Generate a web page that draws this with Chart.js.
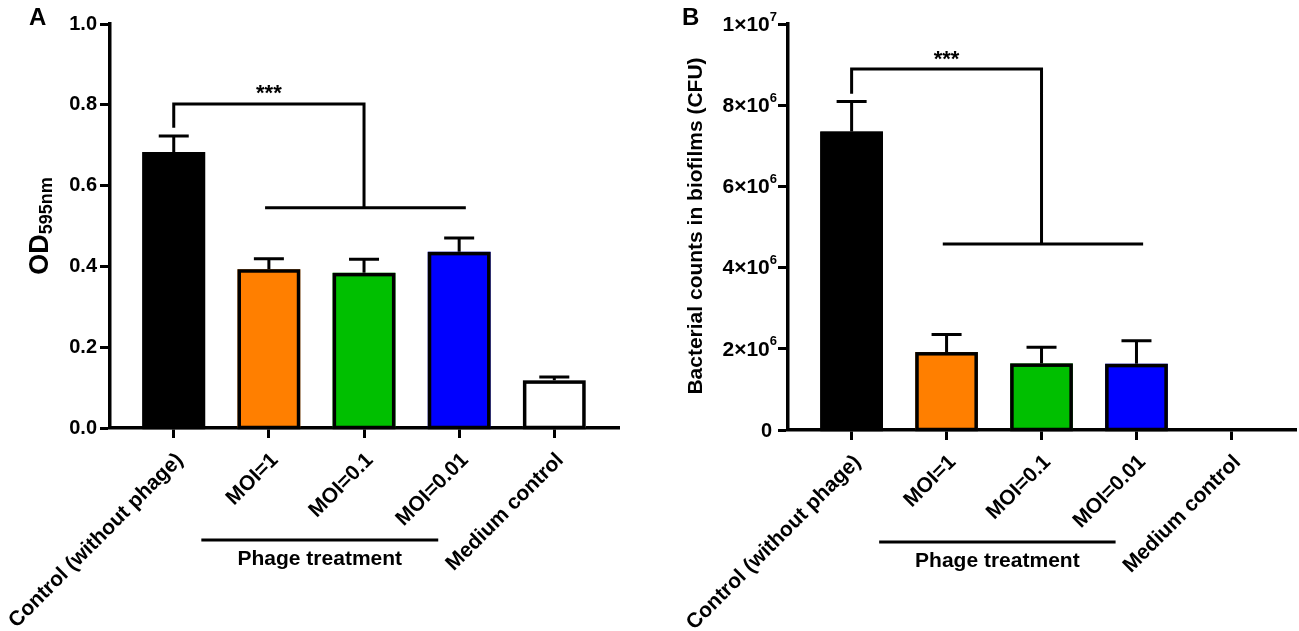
<!DOCTYPE html>
<html>
<head>
<meta charset="utf-8">
<script src="https://cdn.jsdelivr.net/npm/chart.js@4.4.1/dist/chart.umd.min.js"></script>
<style>
  body { margin: 0; background: #fff; }
  #wrap { position: relative; width: 1299px; height: 631px; }
  canvas { position: absolute; top: 0; }
</style>
</head>
<body>
<div id="wrap">
  <canvas id="chartA" width="650" height="631" style="left:0"></canvas>
  <canvas id="chartB" width="649" height="631" style="left:650px"></canvas>
</div>
<script>
// data
const categories = ['Control (without phage)', 'MOI=1', 'MOI=0.1', 'MOI=0.01', 'Medium control'];
const barColors = ['#000000', '#ff7f00', '#00bf00', '#0000ff', '#ffffff'];

const odMeans = [0.683, 0.393, 0.384, 0.436, 0.118];
const odErrors = [0.040, 0.026, 0.034, 0.034, 0.008];
const odTicks = [0, 0.2, 0.4, 0.6, 0.8, 1.0];

const cfuMeans = [7.35e6, 1.92e6, 1.64e6, 1.63e6, 0];
const cfuErrors = [0.74e6, 0.43e6, 0.40e6, 0.57e6, 0];
const cfuTicks = [0, 2e6, 4e6, 6e6, 8e6, 1e7];

// significance brackets, in data units (x = category index)
const bracketA = { x1: 0, x2: 2, top: 0.802, leftEnd: 0.743, lowX1: 0.96, lowX2: 3.07, low: 0.545, starX: 1, starY: 0.845 };
const bracketB = { x1: 0, x2: 2, top: 8.89e6, leftEnd: 8.28e6, lowX1: 0.96, lowX2: 3.07, low: 4.58e6, starX: 1, starY: 9.28e6 };
const groupLabel = 'Phage treatment';
const groupSpan = [0.29, 2.78];

const FONT = '"Liberation Sans", Arial, sans-serif';

function sciParts(v) {
  if (v === 0) return null;
  const exp = Math.floor(Math.log10(v) + 1e-9);
  const m = Math.round(v / Math.pow(10, exp));
  return { m, exp };
}

function makePanel(id, p) {
  const overlay = {
    id: 'overlay_' + id,
    afterDatasetsDraw(chart) {
      const ctx = chart.ctx;
      const xs = chart.scales.x, ys = chart.scales.y;
      const area = chart.chartArea;
      ctx.save();
      ctx.strokeStyle = '#000';
      ctx.fillStyle = '#000';

      // bar outlines
      ctx.lineWidth = 3.5;
      chart.getDatasetMeta(0).data.forEach(bar => {
        const h = bar.base - bar.y;
        if (h < 1) return;
        const half = bar.width / 2;
        ctx.strokeRect(bar.x - half + 1.75, bar.y + 1.75, bar.width - 3.5, h - 1.75);
      });

      // error bars (upper only)
      ctx.lineWidth = 3;
      chart.getDatasetMeta(0).data.forEach((bar, i) => {
        const e = p.errors[i];
        if (!e) return;
        const y0 = ys.getPixelForValue(p.means[i]);
        const y1 = ys.getPixelForValue(p.means[i] + e);
        ctx.beginPath();
        ctx.moveTo(bar.x, y0);
        ctx.lineTo(bar.x, y1);
        ctx.moveTo(bar.x - 15, y1);
        ctx.lineTo(bar.x + 15, y1);
        ctx.stroke();
      });

      // bracket
      const b = p.bracket;
      ctx.beginPath();
      ctx.moveTo(xs.getPixelForValue(b.x1), ys.getPixelForValue(b.leftEnd));
      ctx.lineTo(xs.getPixelForValue(b.x1), ys.getPixelForValue(b.top));
      ctx.lineTo(xs.getPixelForValue(b.x2), ys.getPixelForValue(b.top));
      ctx.lineTo(xs.getPixelForValue(b.x2), ys.getPixelForValue(b.low));
      ctx.moveTo(xs.getPixelForValue(b.lowX1), ys.getPixelForValue(b.low));
      ctx.lineTo(xs.getPixelForValue(b.lowX2), ys.getPixelForValue(b.low));
      ctx.stroke();
      ctx.font = 'bold 22px ' + FONT;
      ctx.textAlign = 'center';
      ctx.textBaseline = 'alphabetic';
      ctx.fillText('***', xs.getPixelForValue(b.starX), ys.getPixelForValue(b.starY) + 13);

      // group line under the axis
      const gy = area.bottom + 112;
      ctx.beginPath();
      ctx.moveTo(xs.getPixelForValue(groupSpan[0]), gy);
      ctx.lineTo(xs.getPixelForValue(groupSpan[1]), gy);
      ctx.stroke();
      ctx.font = 'bold 21px ' + FONT;
      ctx.textBaseline = 'middle';
      ctx.fillText(groupLabel, xs.getPixelForValue((groupSpan[0] + groupSpan[1]) / 2), gy + 19);

      // panel letter
      ctx.font = 'bold 24px ' + FONT;
      ctx.textAlign = 'left';
      ctx.textBaseline = 'alphabetic';
      ctx.fillText(p.letter, p.letterX, 25);

      p.drawTitle(ctx, chart);
      if (p.drawYLabels) p.drawYLabels(ctx, chart);
      ctx.restore();
    }
  };

  return new Chart(document.getElementById(id), {
    type: 'bar',
    data: {
      datasets: [{
        data: categories.map((c, i) => ({ x: i, y: p.means[i] })),
        backgroundColor: barColors,
        borderWidth: 0,
        categoryPercentage: 1,
        barPercentage: 0.66
      }]
    },
    options: {
      responsive: false,
      animation: false,
      devicePixelRatio: 1,
      layout: { padding: { top: 24, right: p.padRight, left: 0, bottom: 0 } },
      plugins: { legend: { display: false }, tooltip: { enabled: false } },
      scales: {
        x: {
          type: 'linear',
          min: -0.67,
          max: 4.68,
          offset: false,
          afterBuildTicks: s => { s.ticks = categories.map((c, i) => ({ value: i })); },
          afterFit: s => { s.height = p.xHeight; s.paddingLeft = 0; s.paddingRight = 0; },
          grid: { display: true, offset: false, drawOnChartArea: false, tickLength: 10, tickWidth: 3, tickColor: '#000' },
          border: { display: true, width: 3.5, color: '#000' },
          ticks: {
            autoSkip: false,
            minRotation: 45,
            maxRotation: 45,
            padding: 10,
            labelOffset: 6,
            color: '#000',
            font: { family: FONT, size: 21, weight: 'bold' },
            callback: v => categories[Math.round(v)]
          }
        },
        y: {
          min: 0,
          max: p.yMax,
          afterBuildTicks: s => { s.ticks = p.yTicks.map(v => ({ value: v })); },
          afterFit: s => { s.width = p.yWidth; s.paddingTop = 0; s.paddingBottom = 0; },
          grid: { display: true, drawOnChartArea: false, tickLength: 10, tickWidth: 3, tickColor: '#000' },
          border: { display: true, width: 3.5, color: '#000' },
          ticks: {
            display: p.showYTicks,
            padding: 3,
            color: '#000',
            font: { family: FONT, size: 20, weight: 'bold' },
            callback: v => v.toFixed(1)
          }
        }
      }
    },
    plugins: [overlay]
  });
}

makePanel('chartA', {
  means: odMeans, errors: odErrors, yTicks: odTicks, yMax: 1.0,
  yWidth: 110, xHeight: 203, padRight: 31, showYTicks: true,
  bracket: bracketA, letter: 'A', letterX: 29,
  drawTitle(ctx) {
    ctx.save();
    ctx.translate(0, 226);
    ctx.rotate(-Math.PI / 2);
    ctx.textBaseline = 'alphabetic';
    ctx.textAlign = 'left';
    ctx.font = 'bold 27px ' + FONT;
    const w1 = ctx.measureText('OD').width;
    ctx.font = 'bold 18px ' + FONT;
    const w2 = ctx.measureText('595nm').width;
    const x0 = -(w1 + w2) / 2;
    ctx.font = 'bold 27px ' + FONT;
    ctx.fillText('OD', x0, 48);
    ctx.font = 'bold 18px ' + FONT;
    ctx.fillText('595nm', x0 + w1, 52);
    ctx.restore();
  }
});

makePanel('chartB', {
  means: cfuMeans, errors: cfuErrors, yTicks: cfuTicks, yMax: 1e7,
  yWidth: 138, xHeight: 201, padRight: 3, showYTicks: false,
  bracket: bracketB, letter: 'B', letterX: 32,
  drawTitle(ctx) {
    ctx.save();
    ctx.translate(46, 226);
    ctx.rotate(-Math.PI / 2);
    ctx.textAlign = 'center';
    ctx.textBaseline = 'middle';
    ctx.font = 'bold 21px ' + FONT;
    ctx.fillText('Bacterial counts in biofilms (CFU)', 0, 0);
    ctx.restore();
  },
  drawYLabels(ctx, chart) {
    const ys = chart.scales.y;
    const right = ys.right - 11;
    ctx.textBaseline = 'middle';
    ctx.textAlign = 'right';
    cfuTicks.forEach(v => {
      const y = ys.getPixelForValue(v);
      const s = sciParts(v);
      if (!s) {
        ctx.font = 'bold 20px ' + FONT;
        ctx.fillText('0', right - 5, y + 1);
        return;
      }
      ctx.font = 'bold 13px ' + FONT;
      const sup = String(s.exp);
      const wSup = ctx.measureText(sup).width;
      ctx.fillText(sup, right, y - 7);
      ctx.font = 'bold 21px ' + FONT;
      ctx.fillText(s.m + '\u00d710', right - wSup, y + 1);
    });
  }
});
</script>
</body>
</html>
